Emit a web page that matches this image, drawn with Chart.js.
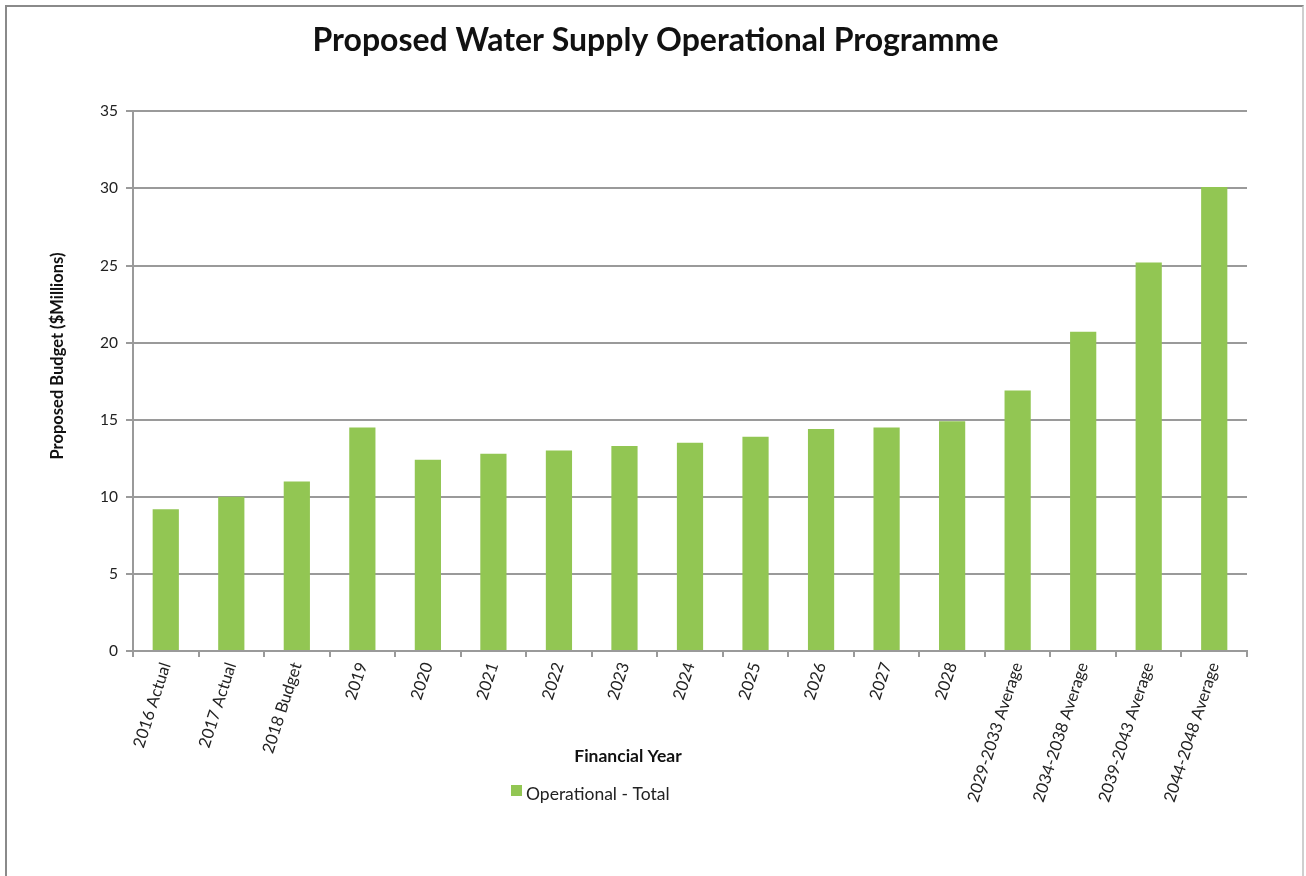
<!DOCTYPE html>
<html>
<head>
<meta charset="utf-8">
<title>Proposed Water Supply Operational Programme</title>
<script src="https://cdn.jsdelivr.net/npm/chart.js@4.4.1/dist/chart.umd.min.js"></script>
<style>
  html, body { margin: 0; padding: 0; background: #fff; }
  #wrap { position: relative; width: 1306px; height: 876px; overflow: hidden; }
  #frame {
    position: absolute; left: 5px; top: 5px; width: 1295px; height: 900px;
    border-top: 2px solid #8a8a8a; border-left: 2px solid #8a8a8a; border-right: 2px solid #cfcfcf;
    pointer-events: none;
  }
  canvas { position: absolute; left: 0; top: 0; }
</style>
</head>
<body>
<div id="wrap">
  <canvas id="budget-chart" width="1306" height="876"></canvas>
  <div id="frame"></div>
</div>
<script>
const chartTitle = 'Proposed Water Supply Operational Programme';
const xAxisTitle = 'Financial Year';
const yAxisTitle = 'Proposed Budget ($Millions)';
const seriesName = 'Operational - Total';

const years = [
    '2016 Actual', '2017 Actual', '2018 Budget', '2019', '2020', '2021', '2022',
    '2023', '2024', '2025', '2026', '2027', '2028',
    '2029-2033 Average', '2034-2038 Average', '2039-2043 Average', '2044-2048 Average'
];
const operationalTotal = [
    9.2, 10.0, 11.0, 14.5, 12.4, 12.8, 13.0,
    13.3, 13.5, 13.9, 14.4, 14.5, 14.9,
    16.9, 20.7, 25.2, 30.1
];
const yTicks = [0, 5, 10, 15, 20, 25, 30, 35];

const barColor = '#92c653';
const axisGrey = '#9a9a9a';
const fontFamily = 'Lato, "Open Sans", sans-serif';

// axis titles and legend sit off the usual Chart.js spots, so draw them by hand
const chartNotes = {
    id: 'chartNotes',
    afterDraw(chart) {
        const ctx = chart.ctx;
        const area = chart.chartArea;
        ctx.save();
        ctx.textBaseline = 'middle';
        ctx.fillStyle = '#111';
        ctx.textAlign = 'center';

        // y-axis title, rotated
        ctx.save();
        ctx.translate(58, 356);
        ctx.rotate(-Math.PI / 2);
        ctx.font = 'bold 16.5px ' + fontFamily;
        ctx.fillText(yAxisTitle, 0, 0);
        ctx.restore();

        // x-axis title
        ctx.font = 'bold 17.5px ' + fontFamily;
        ctx.fillText(xAxisTitle, 628, area.bottom + 105);

        // legend
        ctx.fillStyle = barColor;
        ctx.fillRect(511, area.bottom + 134, 11, 11);
        ctx.font = '17.5px ' + fontFamily;
        ctx.fillStyle = '#222';
        ctx.textAlign = 'left';
        ctx.fillText(seriesName, 526, area.bottom + 143);
        ctx.restore();
    }
};

document.addEventListener('DOMContentLoaded', function() {
    const canvas = document.getElementById('budget-chart');

    new Chart(canvas, {
        type: 'bar',
        data: {
            labels: years,
            datasets: [{
                label: seriesName,
                data: operationalTotal,
                backgroundColor: barColor,
                borderWidth: 0,
                categoryPercentage: 1.0,
                barPercentage: 0.4
            }]
        },
        options: {
            responsive: false,
            animation: false,
            layout: {
                padding: { left: 64, right: 59, top: 0, bottom: 0 }
            },
            plugins: {
                legend: { display: false },
                tooltip: { enabled: false },
                title: {
                    display: true,
                    text: chartTitle,
                    color: '#111',
                    font: { family: fontFamily, size: 32, weight: 'bold' },
                    padding: { top: 21, bottom: 52 }
                }
            },
            scales: {
                x: {
                    offset: true,
                    grid: {
                        display: true,
                        offset: true,
                        drawOnChartArea: false,
                        drawTicks: true,
                        tickLength: 6,
                        color: axisGrey,
                        lineWidth: 2
                    },
                    border: { color: axisGrey, width: 2 },
                    ticks: {
                        autoSkip: false,
                        minRotation: 72,
                        maxRotation: 72,
                        padding: 3,
                        color: '#222',
                        font: { family: fontFamily, size: 16.5 }
                    },
                    afterFit: function(axis) {
                        axis.height = 876 - 651;
                    }
                },
                y: {
                    min: 0,
                    max: 35,
                    afterBuildTicks: function(axis) {
                        axis.ticks = yTicks.map(v => ({ value: v }));
                    },
                    grid: {
                        color: axisGrey,
                        lineWidth: 2,
                        drawTicks: true,
                        tickLength: 7
                    },
                    border: { color: axisGrey, width: 2 },
                    ticks: {
                        padding: 8,
                        color: '#222',
                        font: { family: fontFamily, size: 15.5 }
                    },
                    afterFit: function(axis) {
                        axis.width = 133 - 64;
                    }
                }
            }
        },
        plugins: [chartNotes]
    });
});
</script>
</body>
</html>
